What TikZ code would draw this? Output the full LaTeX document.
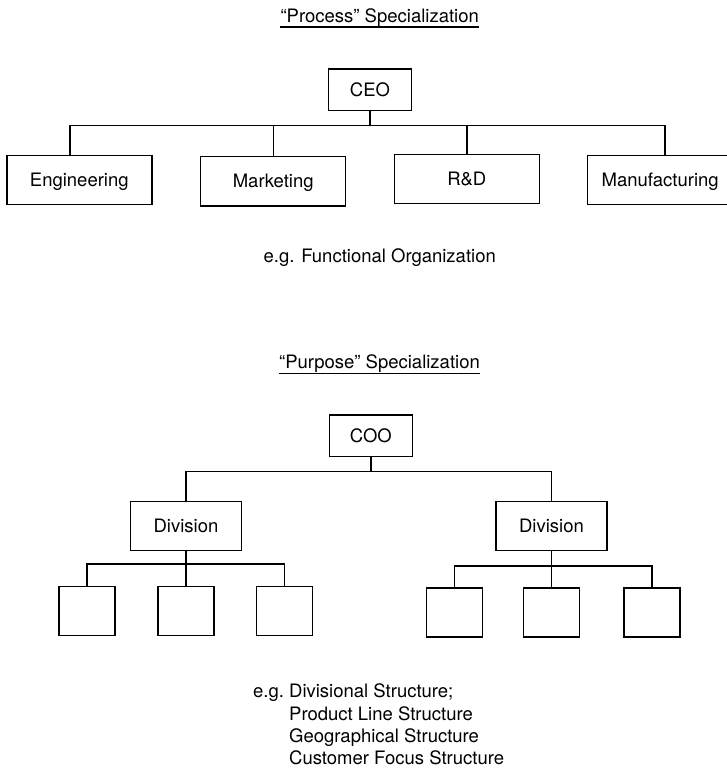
\documentclass[tikz,border=0pt]{standalone}
\usepackage{fontspec}
\setmainfont{TeX Gyre Heros}
\begin{document}
\begin{tikzpicture}[x=1pt,y=-1pt,
  every node/.style={font=\fontsize{18.5}{22.4}\selectfont, inner sep=0pt},
  unit/.style={draw, line width=1.4pt, text height=13.2pt, text depth=0pt},
  dept/.style={unit, minimum width=145pt, minimum height=49pt},
  head/.style={unit, minimum width=83pt, minimum height=41.5pt},
  divbox/.style={unit, minimum width=111pt, minimum height=49pt},
  leaf/.style={unit, minimum width=56pt, minimum height=49pt},
  conn/.style={line width=1.4pt},
  heading/.style={anchor=base, text depth=4.6pt},
  rule/.style={line width=1.2pt}]

\useasboundingbox (0,0) rectangle (727,770);

% ---------- functional organization ----------
\node[heading] (t1) at (379.7,22.3) {“Process” Specialization};
\draw[rule] (t1.south west) -- (t1.south east);

\node[head] (ceo) at (370,89.7) {CEO};
\node[dept] (eng) at (79.3,180) {Engineering};
\node[dept] (mkt) at (273.2,181.3) {Marketing};
\node[dept] (rnd) at (466.8,179.2) {R\&D};
\node[dept] (mfg) at (660.2,180) {Manufacturing};

\coordinate (busL) at (70,125.7);
\coordinate (busR) at (665,125.7);
\draw[conn] (busL |- eng.north) -- (busL) -- (busR) -- (busR |- mfg.north);
\draw[conn] (ceo) -- (ceo |- busL);
\draw[conn] (mkt.north |- busL) -- (mkt);
\draw[conn] (rnd.north |- busL) -- (rnd);

\node[anchor=base] (fn) at (379.7,262.3) {e.g. Functional Organization};

% ---------- divisional organization ----------
\node[heading] (t2) at (379.5,368.3) {“Purpose” Specialization};
\draw[rule] (t2.south west) -- (t2.south east);

\node[head] (coo) at (370.8,435.8) {COO};
\node[divbox] (divL) at (186,526.2) {Division};
\node[divbox] (divR) at (551.5,526.2) {Division};

\coordinate (j2) at (0,471.7);
\draw[conn] (divL) -- (divL |- j2) -- (divR |- j2) -- (divR);
\draw[conn] (coo) -- (coo |- j2);

\node[leaf] (a1) at (87,610.7) {};
\node[leaf] (a2) at (186,610.7) {};
\node[leaf] (a3) at (284.5,610.7) {};
\node[leaf] (b1) at (454.2,612.5) {};
\node[leaf] (b2) at (551.5,612.5) {};
\node[leaf] (b3) at (652,612.5) {};

\coordinate (j3) at (0,564);
\coordinate (j4) at (0,566);
\draw[conn] (a1) -- (a1 |- j3) -- (a3 |- j3) -- (a3);
\draw[conn] (divL) -- (a2);
\draw[conn] (b1) -- (b1 |- j4) -- (b3 |- j4) -- (b3);
\draw[conn] (divR) -- (b2);

\node[anchor=base west] (eg) at (253,697.7)
  {\begin{tabular}[t]{@{}l@{\hspace{5.1pt}}l@{}}
   e.g. & Divisional Structure;\\
        & Product Line Structure\\
        & Geographical Structure\\
        & Customer Focus Structure
   \end{tabular}};
\end{tikzpicture}
\end{document}
